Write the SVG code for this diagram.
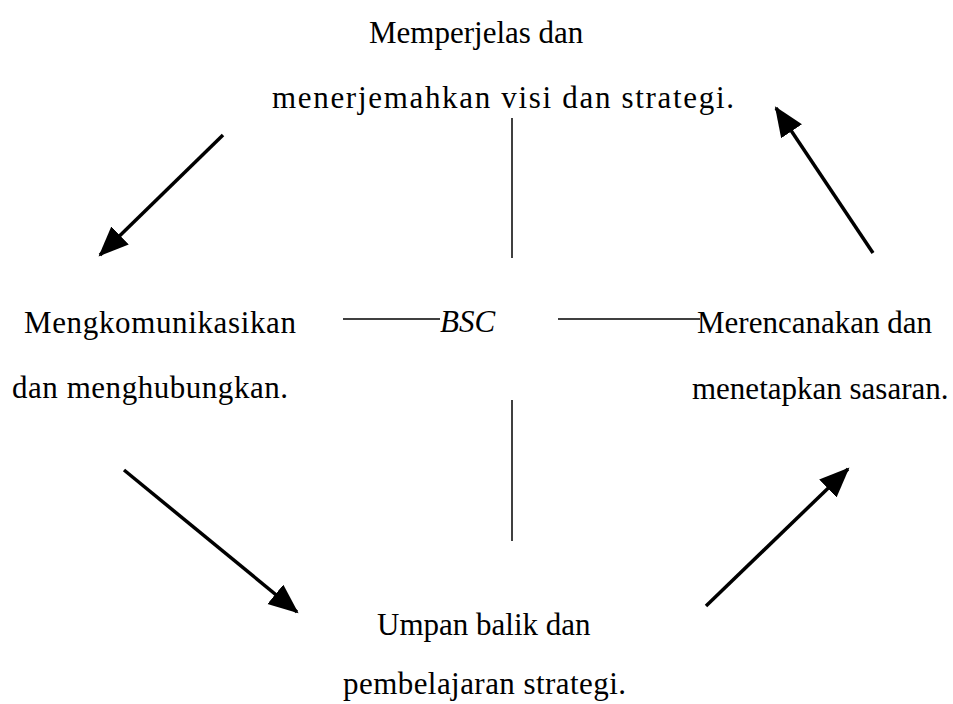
<svg xmlns="http://www.w3.org/2000/svg" width="953" height="704" viewBox="0 0 953 704">
  <style>
    .lbl { font-family: "Liberation Serif", "Times New Roman", serif; font-size: 31px; fill: #000; }
    .it { font-style: italic; }
    .thin { stroke: #000; stroke-width: 1.5; fill: none; }
    .arrow { stroke: #000; stroke-width: 3.5; fill: none; marker-end: url(#head); }
  </style>
  <defs>
    <marker id="head" markerUnits="userSpaceOnUse" markerWidth="32" markerHeight="28" refX="28" refY="12.5" orient="auto">
      <path d="M0,0 L30,12.5 L0,25 z" fill="#000"/>
    </marker>
  </defs>
  <rect width="953" height="704" fill="#fff"/>

  <g id="connectors">
    <!-- cross around the centre label -->
    <line class="thin" x1="512" y1="118" x2="512" y2="258"/>
    <line class="thin" x1="512" y1="400" x2="512" y2="541"/>
    <line class="thin" x1="343" y1="319" x2="440" y2="319"/>
    <line class="thin" x1="558" y1="319" x2="700" y2="319"/>
    <!-- cycle arrows -->
    <line class="arrow" x1="223" y1="135" x2="100" y2="255"/>
    <line class="arrow" x1="124" y1="470" x2="297" y2="612"/>
    <line class="arrow" x1="706" y1="606" x2="848" y2="469"/>
    <line class="arrow" x1="873" y1="253" x2="776" y2="108"/>
  </g>

  <g id="node-top">
    <text class="lbl" x="369" y="43">Memperjelas dan</text>
    <text class="lbl" x="272" y="108" textLength="462" lengthAdjust="spacing">menerjemahkan visi dan strategi.</text>
  </g>

  <g id="node-left">
    <text class="lbl" x="24" y="333" textLength="272" lengthAdjust="spacing">Mengkomunikasikan</text>
    <text class="lbl" x="12" y="398" textLength="276" lengthAdjust="spacing">dan menghubungkan.</text>
  </g>

  <g id="node-center">
    <text class="lbl it" x="440" y="332">BSC</text>
  </g>

  <g id="node-right">
    <text class="lbl" x="697" y="333">Merencanakan dan</text>
    <text class="lbl" x="692" y="399">menetapkan sasaran.</text>
  </g>

  <g id="node-bottom">
    <text class="lbl" x="377" y="635">Umpan balik dan</text>
    <text class="lbl" x="343" y="694" textLength="283" lengthAdjust="spacing">pembelajaran strategi.</text>
  </g>
</svg>
